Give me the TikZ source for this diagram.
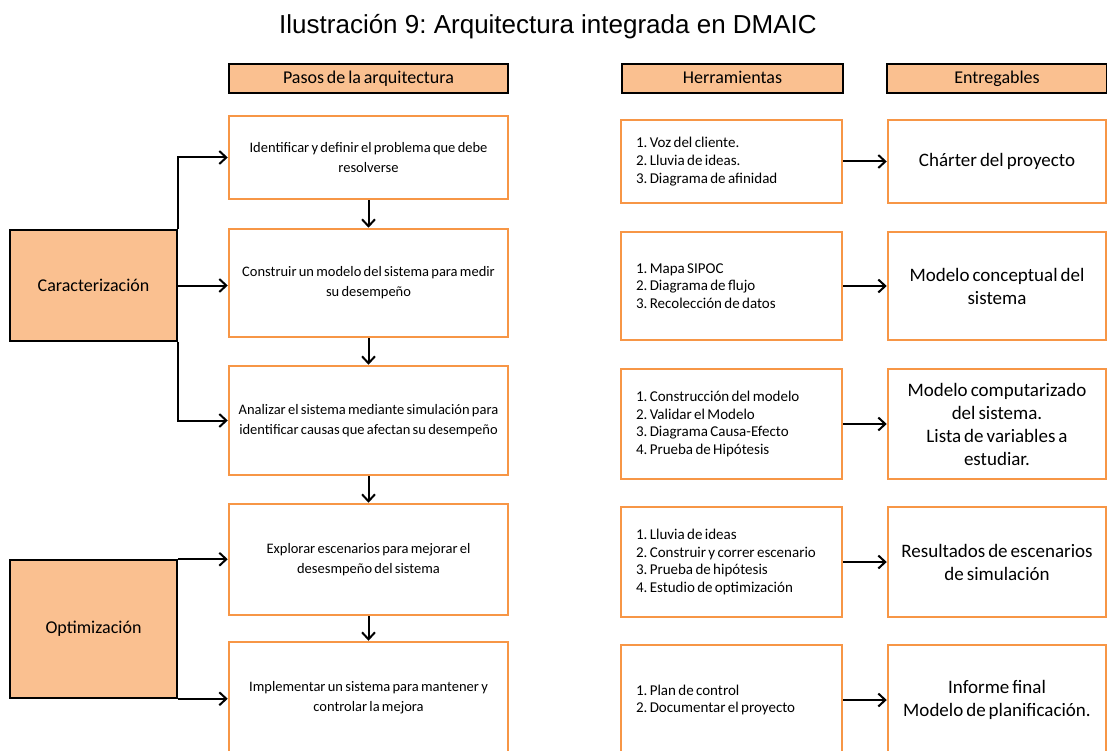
\documentclass[tikz,border=0pt]{standalone}
\usepackage{fontspec}
\setmainfont{Carlito}[WordSpace=0.7]
\newfontfamily\fuentetitulo{Liberation Sans}
\frenchspacing
\usetikzlibrary{arrows.meta}
\definecolor{naranja}{HTML}{F79646}
\definecolor{salmon}{HTML}{FAC090}

\begin{document}
\begin{tikzpicture}[x=1pt, y=-1pt, >={Straight Barb[length=7pt,width=13pt]},
        encabezado/.style={draw=black, line width=1.5pt, fill=salmon, minimum height=29pt, inner sep=0pt, text depth=0.2em, font=\fontsize{18}{20}\selectfont},
        paso/.style={draw=naranja, line width=2.5pt, fill=white, text width=263pt, inner xsep=8pt, align=flush center, font=\fontsize{14.5}{20}\selectfont},
        herramienta/.style={draw=naranja, line width=2.5pt, text width=191pt, inner xsep=15pt, align=flush left, font=\fontsize{15}{17.8}\selectfont},
        entregable/.style={draw=naranja, line width=2.5pt, text width=208pt, inner xsep=5pt, align=flush center, font=\fontsize{19}{23}\selectfont},
        fase/.style={draw=black, line width=1.5pt, fill=salmon, minimum width=167pt, font=\fontsize{18}{20}\selectfont},
        flecha/.style={->, line width=2pt}]
        \useasboundingbox (0,0) rectangle (1107,751);

        % titulo y encabezados
        \node[font=\fuentetitulo\fontsize{26}{30}\selectfont] (titulo) at (548,27) {Ilustración 9: Arquitectura integrada en DMAIC};
        \node[encabezado, minimum width=279pt] (hpasos) at (368.5,78.5) {Pasos de la arquitectura};
        \node[encabezado, minimum width=221pt] (hherr) at (732.5,78.5) {Herramientas};
        \node[encabezado, minimum width=220pt] (hentr) at (997,78.5) {Entregables};

        % fases
        \node[fase, minimum height=111pt] (car) at (93.5,285.5) {Caracterización};
        \node[fase, minimum height=138pt] (opt) at (93.5,629) {Optimización};

        % pasos de la arquitectura
        \foreach \i/\y/\h/\texto in {
            1/157.5/83/{Identificar y definir el problema que debe\\resolverse},
            2/283/108/{Construir un modelo del sistema para medir\\su desempeño},
            3/420.5/109/{Analizar el sistema mediante simulación para\\identificar causas que afectan su desempeño},
            4/559.5/111/{Explorar escenarios para mejorar el\\desesmpeño del sistema},
            5/698/112/{Implementar un sistema para mantener y\\controlar la mejora}
        }{
            \node[paso, minimum height=\h pt] (s\i) at (368.5,\y) {\texto};
        }

        % herramientas
        \foreach \i/\y/\h/\texto in {
            1/161.5/83/{1. Voz del cliente.\\2. Lluvia de ideas.\\3. Diagrama de afinidad},
            2/286/108/{1. Mapa SIPOC\\2. Diagrama de flujo\\3. Recolección de datos},
            3/424/110/{1. Construcción del modelo\\2. Validar el Modelo\\3. Diagrama Causa-Efecto\\4. Prueba de Hipótesis},
            4/562/110/{1. Lluvia de ideas\\2. Construir y correr escenario\\3. Prueba de hipótesis\\4. Estudio de optimización},
            5/700/110/{1. Plan de control\\2. Documentar el proyecto}
        }{
            \node[herramienta, minimum height=\h pt] (t\i) at (731.5,\y) {\texto};
        }

        % entregables
        \foreach \i/\y/\h/\texto in {
            1/161.5/83/{Chárter del proyecto},
            2/286/108/{Modelo conceptual del\\sistema},
            3/424/110/{Modelo computarizado\\del sistema.\\Lista de variables a\\estudiar.},
            4/562/110/{Resultados de escenarios\\de simulación},
            5/700/110/{Informe final\\Modelo de planificación.}
        }{
            \node[entregable, minimum height=\h pt] (d\i) at (997,\y) {\texto};
        }

        % conectores
        \draw[flecha] (car.north east) |- (s1.west);
        \draw[flecha] (car.east) -- (car.east -| s2.west);
        \draw[flecha] (car.south east) |- (s3.west);
        \draw[flecha] (opt.north east) -- (opt.north east -| s4.west);
        \draw[flecha] (opt.south east) -- (opt.south east -| s5.west);
        \foreach \a/\b in {1/2, 2/3, 3/4, 4/5}
            \draw[flecha] (s\a.south) -- (s\b.north);
        \foreach \i in {1,...,5}
            \draw[flecha] (t\i.east) -- (t\i.east -| d\i.west);
    \end{tikzpicture}
\end{document}
